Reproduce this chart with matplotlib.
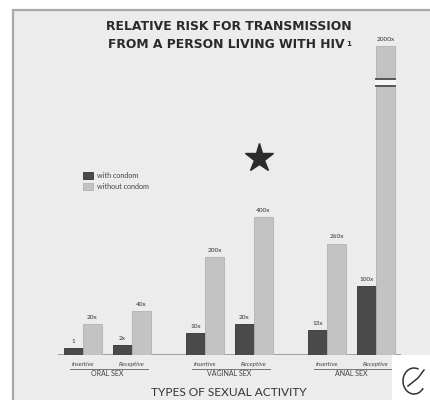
import matplotlib
matplotlib.use("Agg")
import numpy as np
import matplotlib.pyplot as plt
from matplotlib.patches import Rectangle, Arc
from matplotlib.transforms import blended_transform_factory

# relative risk per act, with and without condom
groups = ["ORAL SEX", "VAGINAL SEX", "ANAL SEX"]
roles = ["Insertive", "Receptive"]
with_condom = [1, 2, 10, 20, 13, 100]
without_condom = [20, 40, 200, 400, 260, 2000]
with_labels = ["1", "2x", "10x", "20x", "13x", "100x"]
without_labels = ["20x", "40x", "200x", "400x", "260x", "2000x"]

W, H = 430, 400
BG = "#ececec"
DARK = "#4a4a4a"
LIGHT = "#c3c3c3"

plt.rcParams["font.family"] = ["Lato", "DejaVu Sans"]

fig = plt.figure(figsize=(W / 100, H / 100), dpi=100)
fig.patch.set_facecolor("white")

# panel behind the chart
panel = Rectangle((13 / W, -0.01), 1.0, 1 - 10 / H + 0.01, transform=fig.transFigure,
                  facecolor=BG, edgecolor="#a9a9a9", linewidth=1.6, zorder=0)
fig.add_artist(panel)

# axes: bottom at the baseline, sqrt-scaled y so the small risks stay visible
ax = fig.add_axes([0, 45 / H, 1, 345.5 / H])
ax.patch.set_visible(False)
ax.set_yscale("function", functions=(np.sqrt, np.square))
ax.set_ylim(0, 2500)
ax.set_xlim(-73.5 / 38, (W - 73.5) / 38)
for s in ax.spines.values():
    s.set_visible(False)
ax.set_xticks([])
ax.set_yticks([])

group_step, role_step, bw = 3.21, 1.29, 0.5
pos = np.array([g * group_step + r * role_step for g in range(len(groups)) for r in range(len(roles))])

b1 = ax.bar(pos, with_condom, width=bw, color=DARK, edgecolor="#333333", linewidth=0.6,
            label="with condom", zorder=3)
b2 = ax.bar(pos + bw, without_condom, width=bw, color=LIGHT, edgecolor="#b2b2b2", linewidth=0.6,
            label="without condom", zorder=3)

# break marks on the tallest bar
big = int(np.argmax(without_condom))
brk_lo, brk_hi = 0.76 * without_condom[big], 0.80 * without_condom[big]
xb = pos[big] + bw
ax.add_patch(Rectangle((xb - bw / 2 - 0.02, brk_lo), bw + 0.04, brk_hi - brk_lo,
                       facecolor="#f6f6f6", edgecolor="none", zorder=4))
ax.plot([xb - bw / 2, xb + bw / 2], [brk_lo, brk_lo], color="#555555", lw=1.4, zorder=5)
ax.plot([xb - bw / 2, xb + bw / 2], [brk_hi, brk_hi], color="#555555", lw=1.4, zorder=5)

for bars, labels in ((b1, with_labels), (b2, without_labels)):
    for rect, lab in zip(bars, labels):
        ax.annotate(lab, (rect.get_x() + rect.get_width() / 2, rect.get_height()),
                    xytext=(0, 3), textcoords="offset points", ha="center", va="bottom",
                    fontsize=4.6, color="#333333")

# baseline
ax.plot([pos[0] - 0.4, pos[-1] + bw + 0.4], [0, 0], color="#9a9a9a", lw=1.3, zorder=2,
        solid_capstyle="butt")

# category labels below the baseline
tr = blended_transform_factory(ax.transData, fig.transFigure)
for i, p in enumerate(pos):
    fig.text(p + bw / 2, 1 - 364 / H, roles[i % 2], transform=tr, ha="center", va="center",
             fontsize=4.6, style="italic", color="#444444")
for g, name in enumerate(groups):
    x0 = g * group_step
    fig.add_artist(plt.Line2D([x0 - 0.09, x0 + role_step + bw + 0.17], [1 - 368.5 / H] * 2,
                              transform=tr, color="#777777", lw=0.7))
    fig.text(x0 + (role_step + bw) / 2, 1 - 374 / H, name, transform=tr, ha="center",
             va="center", fontsize=5, color="#444444")

ax.legend(handles=[b1, b2], loc="upper left", bbox_to_anchor=(76 / W, 1 - 165 / H),
          bbox_transform=fig.transFigure, frameon=False, fontsize=5.2, handlelength=1.4,
          handleheight=1.2, handletextpad=0.6, labelspacing=0.5, labelcolor="#444444")

ax.plot([259 / W], [(355 - 158) / 345.5], marker="*", markersize=21, color="#2b2b2b",
        transform=ax.transAxes, zorder=6)

title_font = dict(family="DejaVu Sans", fontsize=8.9, fontweight="bold", color="#2a2a2a")
fig.text(229 / W, 1 - 27 / H, "RELATIVE RISK FOR TRANSMISSION", ha="center", va="center",
         **title_font)
t2 = fig.text(226 / W, 1 - 45 / H, "FROM A PERSON LIVING WITH HIV", ha="center", va="center",
              **title_font)
# footnote marker right after the second title line
ax.annotate("1", xy=(1, 1), xycoords=t2, xytext=(1.5, -1.5), textcoords="offset points",
            ha="left", va="top", family="DejaVu Sans", fontsize=5, fontweight="bold",
            color="#2a2a2a", annotation_clip=False)
fig.text(229 / W, 1 - 393 / H, "TYPES OF SEXUAL ACTIVITY", ha="center", va="center",
         fontsize=8.6, color="#333333")

# logo corner
fig.add_artist(Rectangle((392 / W, 0), 38 / W, 45 / H, transform=fig.transFigure,
                         facecolor="white", edgecolor="none", zorder=5))
fig.add_artist(Arc((414 / W, 19 / H), 22 / W, 26 / H, theta1=70, theta2=320,
                   transform=fig.transFigure, color="#333333", lw=1.1, zorder=6))
fig.add_artist(plt.Line2D([408 / W, 418 / W, 424 / W], [14 / H, 22 / H, 30 / H],
                          transform=fig.transFigure, color="#333333", lw=1.1, zorder=6))

fig.savefig("out.png", dpi=100, facecolor=fig.get_facecolor())
